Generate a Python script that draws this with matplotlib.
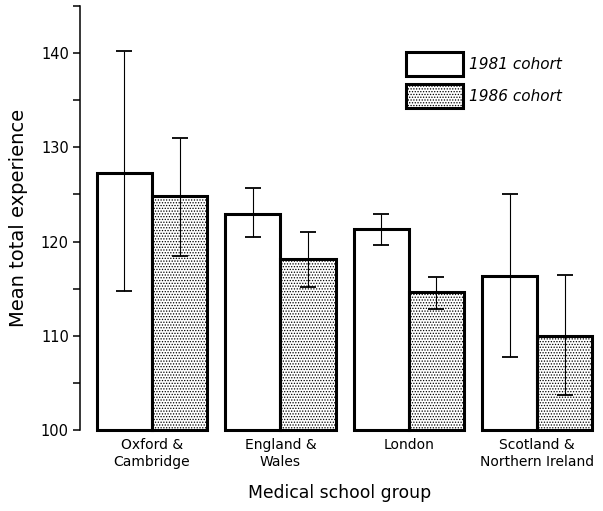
import matplotlib
matplotlib.use("Agg")
import matplotlib.pyplot as plt
from matplotlib.patches import Patch
from matplotlib.ticker import MultipleLocator
import numpy as np

groups = ["Oxford &\nCambridge", "England &\nWales", "London", "Scotland &\nNorthern Ireland"]
cohorts = ["1981 cohort", "1986 cohort"]

# means and error bar ends
mean_1981 = [127.3, 122.9, 121.3, 116.3]
low_1981 = [114.8, 120.5, 119.6, 107.8]
high_1981 = [140.2, 125.7, 122.9, 125.1]

mean_1986 = [124.8, 118.1, 114.6, 110.0]
low_1986 = [118.5, 115.2, 112.8, 103.7]
high_1986 = [131.0, 121.0, 116.2, 116.4]

plt.rcParams['font.family'] = ['DejaVu Sans']
plt.rcParams['hatch.linewidth'] = 0.6

fig = plt.figure(figsize=(6.03, 5.11), dpi=100)
ax = fig.add_axes([80/603, 81/511, 520/603, 424/511])

x = np.arange(len(groups))
w = 0.43
base = 100

for off, means, lo, hi, hatch in [(-w/2, mean_1981, low_1981, high_1981, None),
                                  (w/2, mean_1986, low_1986, high_1986, '......')]:
    m = np.array(means)
    ax.bar(x + off, m - base, w, bottom=base, facecolor='white', edgecolor='black',
           linewidth=2.2, hatch=hatch, clip_on=False, zorder=2)
    yerr = [m - np.array(lo), np.array(hi) - m]
    ax.errorbar(x + off, m, yerr=yerr, fmt='none', ecolor='black', elinewidth=0.8,
                capsize=5.5, capthick=1.3, zorder=3)

ax.set_xlim(-0.561, 3.49)
ax.set_ylim(100, 145)
ax.yaxis.set_major_locator(MultipleLocator(10))
ax.yaxis.set_minor_locator(MultipleLocator(5))
ax.tick_params(axis='y', which='both', direction='out', length=5, width=1.1, labelsize=10.5, pad=3)
ax.set_xticks(x)
ax.set_xticklabels(groups, fontsize=10)
ax.tick_params(axis='x', length=0, pad=6)

for s in ['top', 'right', 'bottom']:
    ax.spines[s].set_visible(False)
ax.spines['left'].set_linewidth(1.1)

fig.text(340/603, (511 - 493)/511, "Medical school group", fontsize=12.4, ha='center', va='center')
ax.set_ylabel("Mean total experience", fontsize=14, labelpad=9)

handles = [Patch(facecolor='white', edgecolor='black', linewidth=2.2),
           Patch(facecolor='white', edgecolor='black', linewidth=2.2, hatch='......')]
leg = ax.legend(handles, cohorts, loc='upper left', bbox_to_anchor=(406/603, 1 - 52/511),
                bbox_transform=fig.transFigure, frameon=False, borderpad=0, borderaxespad=0,
                handlelength=3.7, handleheight=2.05, labelspacing=0.5, handletextpad=0.45,
                prop={'size': 11, 'style': 'italic'})

fig.savefig("out.png", dpi=100)
